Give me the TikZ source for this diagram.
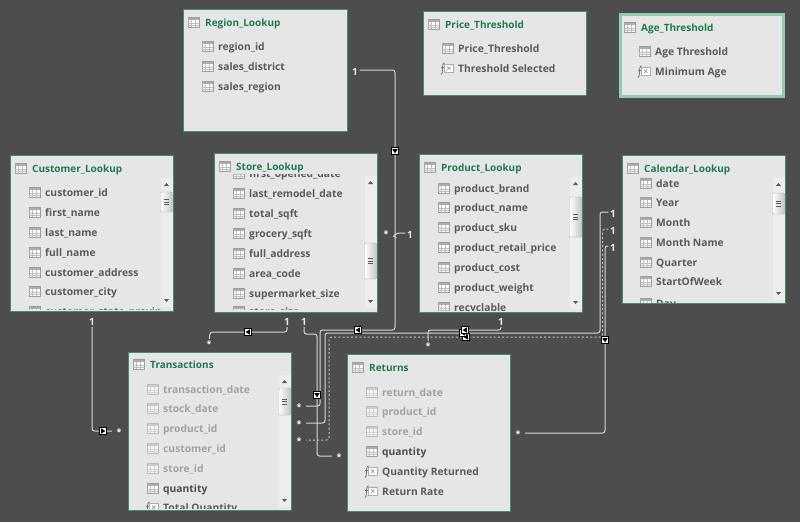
\documentclass[tikz,border=0pt]{standalone}
\usepackage{fontspec}
\setmainfont{Open Sans}
\usetikzlibrary{positioning}

\definecolor{bgdark}{HTML}{4D4D4D}
\definecolor{boxgray}{HTML}{E6E6E6}
\definecolor{boxgreen}{HTML}{3F8F68}
\definecolor{agegreen}{HTML}{8FCDAE}
\definecolor{titlegreen}{HTML}{1F7A50}
\definecolor{fieldgray}{HTML}{5C5A5C}
\definecolor{fadegray}{HTML}{A2A2A2}
\definecolor{relgray}{HTML}{D6D6D6}
\definecolor{dashgray}{HTML}{B4CBBF}

\tikzset{
  tablebox/.style={draw=boxgreen, fill=boxgray, line width=1pt, anchor=north west, inner sep=0pt},
  tabletitle/.style={anchor=west, inner sep=0pt, yshift=-2pt, text=titlegreen, font=\fontsize{10}{12}\bfseries, text height=8pt, text depth=2.5pt},
  coltxt/.style={anchor=west, inner sep=0pt, yshift=-2pt, text=fieldgray, font=\fontsize{10.3}{12}\bfseries, text height=8pt, text depth=2.5pt},
  fxtxt/.style={coltxt},
  boldtxt/.style={coltxt, text=fieldgray!85!black},
  fadetxt/.style={coltxt, text=fadegray},
  rel/.style={draw=relgray, line width=1pt, rounded corners=2.5pt},
  reldash/.style={rel, draw=dashgray, dash pattern=on 2pt off 2.2pt},
  one/.style={text=boxgray, inner sep=1.5pt, font=\fontsize{10}{12}\bfseries, text height=10.4pt, text depth=0pt},
  many/.style={text=white, inner sep=0pt, minimum width=14pt, font=\fontsize{9}{10}\bfseries, text height=8pt, text depth=0pt},
  pics/col/.style={code={
    \draw[fill=white, draw=fieldgray!60, line width=.7pt] (-5.5,-4.3) rectangle (5.5,5.2);
    \fill[fieldgray!50] (-5.5,-4.3) rectangle (5.5,-1.7);
    \draw[fieldgray!40, line width=.5pt] (-5.5,0.8) -- (5.5,0.8) (-5.5,3) -- (5.5,3) (-2,-1.7) -- (-2,5.2) (2,-1.7) -- (2,5.2);
  }},
  pics/bold/.style={code={\pic {col};}},
  pics/fade/.style={code={\pic[opacity=.55] {col};}},
  pics/fx/.style={code={
    \draw[fieldgray!85, line width=.8pt] (-6.5,6.5) .. controls (-4.5,6.5) and (-5.5,0) .. (-4.7,-3) .. controls (-4.3,-4.8) and (-3.7,-5) .. (-2.8,-5);
    \draw[fieldgray!85, line width=.6pt] (-6.5,-1) -- (-3,-1);
    \draw[fieldgray!50, line width=.6pt, fill=white] (-2.8,-3.5) rectangle (5.5,4);
    \draw[fieldgray!70, line width=.5pt] (-0.5,-1.6) -- (3,2.1) (-0.5,2.1) -- (3,-1.6);
  }},
  pics/fltmark/.style={code={
    \draw[fill=white, draw=black, line width=.6pt] (-3.5,-3.5) rectangle (3.5,3.5);
    \fill[black] (2.4,0) -- (-1.8,-2.6) -- (-1.8,2.6) -- cycle;
  }}
}

% one table body: y / text / kind of each field
\newcommand{\fieldrows}[3]{%
  \foreach \rowy/\rowtxt/\rowkind [count=\i] in {#3} {
    \pic at (#2,\rowy) {\rowkind};
    \node[\rowkind txt] (#1\i) at (#2+10.5,\rowy) {\rowtxt};
  }}
% x, top, bottom, thumb top, thumb bottom
\newcommand{\scrollbar}[5]{%
  \fill[white, opacity=.3] (#1,#2) rectangle (#1+12,#3);
  \fill[fieldgray] (#1+3.5,#2+8) -- (#1+8.5,#2+8) -- (#1+6,#2+5) -- cycle;
  \fill[fieldgray] (#1+3.5,#3-8) -- (#1+8.5,#3-8) -- (#1+6,#3-5) -- cycle;
  \draw[draw=gray!70, left color=white, right color=gray!45, rounded corners=1pt] (#1,#4) rectangle (#1+12,#5);
  \draw[fieldgray, line width=.6pt] (#1+3.5,{(#4+#5)/2-2.5}) -- +(5,0) (#1+3.5,{(#4+#5)/2}) -- +(5,0) (#1+3.5,{(#4+#5)/2+2.5}) -- +(5,0);
}

\begin{document}
\begin{tikzpicture}[x=1pt, y=-1pt]
  \path[fill=bgdark, use as bounding box] (0,0) rectangle (800,522);

  % tables
  \node[tablebox, minimum width=164pt, minimum height=122pt] (region) at (183,9) {};
  \node[tablebox, minimum width=163pt, minimum height=84pt] (price) at (423,11) {};
  \node[tablebox, draw=agegreen, line width=2.5pt, minimum width=163pt, minimum height=82pt] (age) at (619,13) {};
  \node[tablebox, minimum width=163pt, minimum height=156pt] (customer) at (10,155) {};
  \node[tablebox, minimum width=163pt, minimum height=159pt] (store) at (214,153) {};
  \node[tablebox, minimum width=163pt, minimum height=158pt] (product) at (419,154) {};
  \node[tablebox, minimum width=163pt, minimum height=148pt] (calendar) at (622,155) {};
  \node[tablebox, minimum width=163pt, minimum height=158pt] (transactions) at (128,352) {};
  \node[tablebox, minimum width=163pt, minimum height=157pt] (returns) at (347,354) {};

  % titles
  \foreach \tblx/\tbly/\tblname/\tbltxt in {
    183/22/regiontitle/Region\_Lookup, 423/24/pricetitle/Price\_Threshold,
    619/27/agetitle/Age\_Threshold, 10/168/customertitle/Customer\_Lookup,
    214/166/storetitle/Store\_Lookup, 419/167/producttitle/Product\_Lookup,
    622/168/calendartitle/Calendar\_Lookup, 128/364/transactionstitle/Transactions,
    347/367/returnstitle/Returns} {
    \pic at (\tblx+10.5,\tbly) {col};
    \node[tabletitle] (\tblname) at (\tblx+22,\tbly) {\tbltxt};
  }

  % scroll bars
  \scrollbar{160.5}{178}{307}{192}{212}
  \scrollbar{364.5}{176}{308}{243}{279}
  \scrollbar{569.5}{177}{309}{197}{237}
  \scrollbar{772.5}{178}{300}{193}{214}
  \scrollbar{278.5}{375}{507}{388}{415}

  % fields
  \fieldrows{regionf}{207.5}{46/region\_id/col, 66/sales\_district/col, 86/sales\_region/col}
  \fieldrows{pricef}{447.5}{48/Price\_Threshold/col, 68/Threshold Selected/fx}
  \fieldrows{agef}{644.5}{51/Age Threshold/col, 71/Minimum Age/fx}
  \begin{scope}
    \clip (10,175) rectangle (160,309);
    \fieldrows{customerf}{34.5}{192/customer\_id/col, 212/first\_name/col, 232/last\_name/col, 252/full\_name/col, 272/customer\_address/col, 291/customer\_city/col, 311/customer\_state\_province/col}
  \end{scope}
  \begin{scope}
    \clip (214,174) rectangle (364,309);
    \fieldrows{storef}{238.5}{173/first\_opened\_date/col, 193/last\_remodel\_date/col, 213/total\_sqft/col, 233/grocery\_sqft/col, 253/full\_address/col, 273/area\_code/col, 293/supermarket\_size/col, 311/store\_size/col}
  \end{scope}
  \begin{scope}
    \clip (419,175) rectangle (569,310);
    \fieldrows{productf}{443.5}{188/product\_brand/col, 207/product\_name/col, 227/product\_sku/col, 247/product\_retail\_price/col, 267/product\_cost/col, 287/product\_weight/col, 307/recyclable/col}
  \end{scope}
  \begin{scope}
    \clip (622,175) rectangle (772,302);
    \fieldrows{calendarf}{645.5}{183/date/col, 202/Year/col, 222/Month/col, 242/Month Name/col, 262/Quarter/col, 281/StartOfWeek/col, 303/Day/col}
  \end{scope}
  \begin{scope}
    \clip (128,378) rectangle (278,508);
    \fieldrows{transactionsf}{152.5}{389/transaction\_date/fade, 408/stock\_date/fade, 428/product\_id/fade, 448/customer\_id/fade, 468/store\_id/fade, 488/quantity/bold, 507/Total Quantity/fx}
  \end{scope}
  \fieldrows{returnsf}{371.5}{392/return\_date/fade, 411/product\_id/fade, 431/store\_id/fade, 451/quantity/bold, 471/Quantity Returned/fx, 491/Return Rate/fx}

  % relationship ends
  \node[one] (oneregion) at (355,70) {1};
  \node[one] (onecustomer) at (92,320) {1};
  \node[one] (onestorea) at (287,320) {1};
  \node[one] (onestoreb) at (304,320) {1};
  \node[one] (oneproduct) at (501,320) {1};
  \node[one] (onemid) at (410,233) {1};
  \node[one] (onecala) at (613,212) {1};
  \node[one] (onecalb) at (613,229) {1};
  \node[one] (onecalc) at (613,246) {1};
  \node[many] (manya) at (299,406) {*};
  \node[many] (manyb) at (299,423) {*};
  \node[many] (manyc) at (299,440) {*};
  \node[many] (manyd) at (339,456) {*};
  \node[many] (manye) at (518,433) {*};
  \node[many] (manyf) at (119,431) {*};
  \node[many] (manyg) at (209,343) {*};
  \node[many] (manyh) at (428,345) {*};
  \node[many] (manymid) at (386,233) {*};

  % relationships
  \draw[rel] (oneregion) -| (395,330) -| (320,406) -- (manya);
  \draw[rel] (onecala) -| (600,333) -| (325,423) -- (manyb);
  \draw[reldash] (onecalb) -| (602.5,337) -| (329,440) -- (manyc);
  \draw[rel] (onecalc) -| (605,433) -- (manye);
  \draw[rel] (onestoreb) |- (317,334) -- (317,456) -- (manyd);
  \draw[rel] (onestorea) |- (210,332) -- (manyg);
  \draw[rel] (oneproduct) |- (428,330) -- (manyh);
  \draw[rel] (onecustomer) |- (manyf);
  \draw[rel] (onemid) -- (397.5,233) -- (393,236) -- (manymid);

  % filter direction marks
  \pic[rotate=-90] at (395,151) {fltmark};
  \pic[rotate=180] at (358,330) {fltmark};
  \pic[rotate=180] at (248,332) {fltmark};
  \pic[rotate=-90] at (317,395) {fltmark};
  \pic at (103,431) {fltmark};
  \pic[rotate=-90] at (605,340) {fltmark};
  \pic[rotate=180] at (466,337) {fltmark};
  \pic[rotate=180] at (463,333) {fltmark};
  \pic[rotate=180] at (465,330) {fltmark};
\end{tikzpicture}
\end{document}
